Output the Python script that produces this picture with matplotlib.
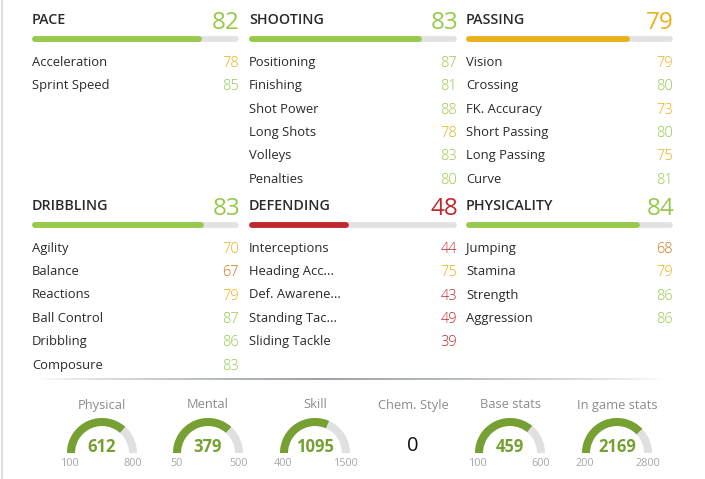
import numpy as np
import matplotlib.pyplot as plt
from matplotlib.patches import Wedge
from matplotlib.collections import LineCollection

plt.rcParams['font.family'] = ['Open Sans', 'DejaVu Sans']

# данные
categories = ['PACE', 'SHOOTING', 'PASSING', 'DRIBBLING', 'DEFENDING', 'PHYSICALITY']
category_values = [82, 83, 79, 83, 48, 84]

pace_labels = ['Acceleration', 'Sprint Speed']
pace_values = [78, 85]
shooting_labels = ['Positioning', 'Finishing', 'Shot Power', 'Long Shots', 'Volleys', 'Penalties']
shooting_values = [87, 81, 88, 78, 83, 80]
passing_labels = ['Vision', 'Crossing', 'FK. Accuracy', 'Short Passing', 'Long Passing', 'Curve']
passing_values = [79, 80, 73, 80, 75, 81]
dribbling_labels = ['Agility', 'Balance', 'Reactions', 'Ball Control', 'Dribbling', 'Composure']
dribbling_values = [70, 67, 79, 87, 86, 83]
defending_labels = ['Interceptions', 'Heading Acc...', 'Def. Awarene...', 'Standing Tac...', 'Sliding Tackle']
defending_values = [44, 75, 43, 49, 39]
physicality_labels = ['Jumping', 'Stamina', 'Strength', 'Aggression']
physicality_values = [68, 79, 86, 86]

gauge_titles = ['Physical', 'Mental', 'Skill', 'Chem. Style', 'Base stats', 'In game stats']
gauge_values = [612, 379, 1095, 0, 459, 2169]
gauge_min = [100, 50, 400, None, 100, 200]
gauge_max = [800, 500, 1500, None, 600, 2800]

sub_labels = [pace_labels, shooting_labels, passing_labels,
              dribbling_labels, defending_labels, physicality_labels]
sub_values = [pace_values, shooting_values, passing_values,
              dribbling_values, defending_values, physicality_values]


def stat_color(v):
    if v >= 80:
        return '#97c94b'
    if v >= 70:
        return '#e9b11c'
    if v >= 50:
        return '#d4761e'
    return '#c1282d'


fig = plt.figure(figsize=(7.05, 4.79), dpi=100)
ax = fig.add_axes([0, 0, 1, 1])
ax.set_xlim(0, 705)
ax.set_ylim(479, 0)
ax.axis('off')

# серая полоска слева
ax.plot([2, 2], [0, 479], color='#dcdcdc', lw=1.5)

col_left = [32, 249, 466]
col_right = [239, 457, 673]
block_top = [20, 206]
row_step = 23.5
bar_w = 4.2  # points
cap = 3  # px, половина толщины

for i, cat in enumerate(categories):
    c = i % 3
    b = i // 3
    x0, x1 = col_left[c], col_right[c]
    y = block_top[b]
    val = category_values[i]
    col = stat_color(val)
    ax.text(x0, y, cat, fontsize=10.3, fontweight='semibold', color='#2a2a2a',
            va='center', ha='left')
    ax.text(x1 + 1, y + 3, str(val), fontsize=17.5, color=col,
            va='center', ha='right')
    yb = y + 19
    ax.plot([x0 + cap, x1 - cap], [yb, yb], color='#e3e3e3', lw=bar_w,
            solid_capstyle='round')
    xe = x0 + (x1 - x0) * val / 100
    ax.plot([x0 + cap, xe - cap], [yb, yb], color=col, lw=bar_w,
            solid_capstyle='round')
    for j, (lab, v) in enumerate(zip(sub_labels[i], sub_values[i])):
        yr = y + 42 + j * row_step
        ax.text(x0, yr, lab, fontsize=9.4, color='#2a2a2a', va='center', ha='left')
        ax.text(x1, yr + 1, str(v), fontsize=10.5, fontweight='light',
                color=stat_color(v), va='center', ha='right')

# разделитель с градиентом
xs = np.linspace(40, 662, 200)
segs = [[(xs[k], 379), (xs[k + 1], 379)] for k in range(len(xs) - 1)]
mid = 0.5 * (xs[:-1] + xs[1:])
alpha = np.where(mid < 320, (mid - 40) / 280, (662 - mid) / 342)
alpha = np.clip(alpha, 0, 1) ** 0.7
cols = [(0.53, 0.56, 0.6, a) for a in alpha]
ax.add_collection(LineCollection(segs, colors=cols, linewidths=1.2))

# датчики
gauge_x = [102, 208, 315, 413, 510, 617]
gy = 453
r_out = 35
ring = 8
for k, title in enumerate(gauge_titles):
    gx = gauge_x[k]
    ax.text(gx, 405, title, fontsize=9.3, color='#8c8c8c', ha='center', va='center')
    if gauge_min[k] is None:
        ax.text(gx, 446, str(gauge_values[k]), fontsize=14.5, color='#111111',
                ha='center', va='center')
        continue
    frac = (gauge_values[k] - gauge_min[k]) / (gauge_max[k] - gauge_min[k])
    # ось y перевёрнута, поэтому углы идут от 180 к 360
    ax.add_patch(Wedge((gx, gy), r_out, 180, 360, width=ring, color='#e0e0e0', lw=0))
    ax.add_patch(Wedge((gx, gy), r_out, 180, 180 + 180 * frac, width=ring,
                       color='#76a032', lw=0))
    ax.text(gx, 447, str(gauge_values[k]), fontsize=12, fontweight='bold',
            color='#76a032', ha='center', va='center')
    ax.text(gx - 32, 463, str(gauge_min[k]), fontsize=7.8, color='#a8a8a8',
            ha='center', va='center')
    ax.text(gx + 31, 463, str(gauge_max[k]), fontsize=7.8, color='#a8a8a8',
            ha='center', va='center')

fig.savefig('out.png', dpi=100, facecolor='white')
